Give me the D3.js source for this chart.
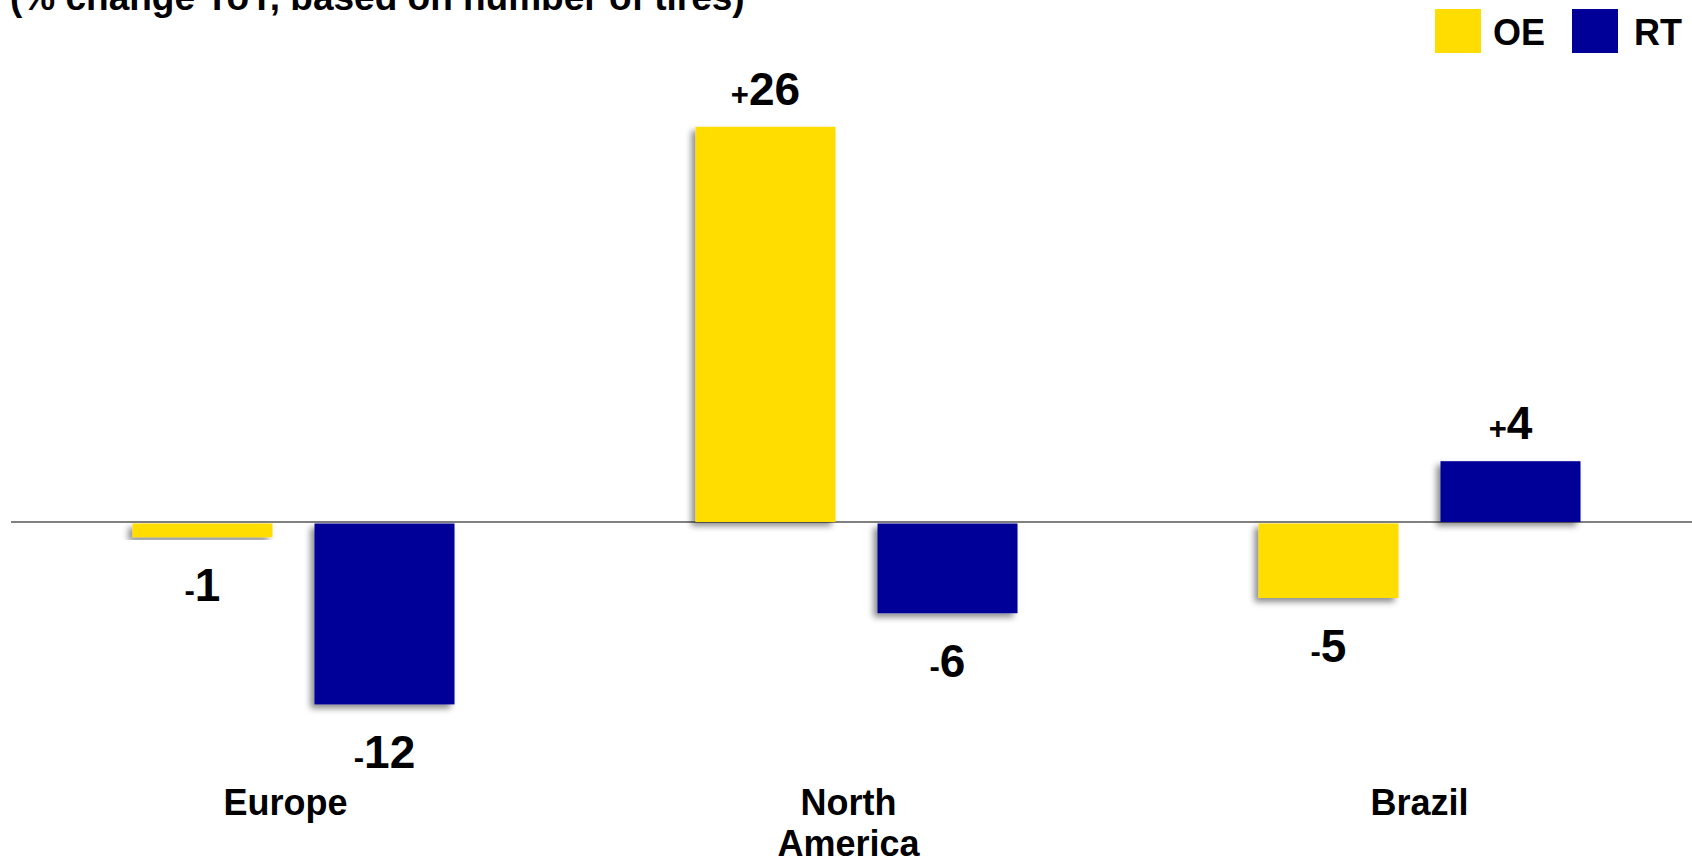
<!DOCTYPE html>
<html>
<head>
<meta charset="utf-8">
<script src="https://cdn.jsdelivr.net/npm/d3@7/dist/d3.min.js"></script>
<style>
  html, body { margin: 0; padding: 0; background: #ffffff; }
  svg { display: block; }
  text { font-family: "Liberation Sans", Arial, sans-serif; font-weight: bold; fill: #000; }
</style>
</head>
<body>
<svg id="chart" width="1692" height="864"></svg>
<script>
// Volume change by region and market segment
const categories = ["Europe", "North America", "Brazil"];
const categoryLines = [["Europe"], ["North", "America"], ["Brazil"]];
const series = ["OE", "RT"];
const oeValues = [-1, 26, -5];
const rtValues = [-12, -6, 4];
const subtitle = "(% change YoY, based on number of tires)";

const colors = { OE: "#FFDD00", RT: "#000099" };

const W = 1692, H = 864;
const svg = d3.select("#chart");

// drop shadow for the bars
const defs = svg.append("defs");
const f = defs.append("filter").attr("id", "shadow")
  .attr("x", "-20%").attr("y", "-20%").attr("width", "140%").attr("height", "140%");
f.append("feDropShadow").attr("dx", -4).attr("dy", 4).attr("stdDeviation", 3)
  .attr("flood-color", "#000").attr("flood-opacity", 0.45);

const x0 = d3.scaleBand().domain(categories).range([12, 1701]).paddingInner(0).paddingOuter(0);
const x1 = d3.scaleBand().domain(series).range([0, x0.bandwidth()])
  .paddingInner(0.2308).paddingOuter(0.662);
const y = d3.scaleLinear().domain([-12, 26]).range([704.4, 126.8]);

const rows = [];
categories.forEach((c, i) => {
  rows.push({ cat: c, s: "OE", v: oeValues[i] });
  rows.push({ cat: c, s: "RT", v: rtValues[i] });
});

// zero line
svg.append("line")
  .attr("x1", 11).attr("x2", W)
  .attr("y1", y(0)).attr("y2", y(0))
  .attr("stroke", "#808080").attr("stroke-width", 2);

// bars
svg.append("g").selectAll("rect").data(rows).join("rect")
  .attr("x", d => x0(d.cat) + x1(d.s))
  .attr("width", x1.bandwidth())
  .attr("y", d => d.v >= 0 ? y(d.v) : y(0) + 1.5)
  .attr("height", d => d.v >= 0 ? y(0) - y(d.v) : y(d.v) - y(0) - 1.5)
  .attr("fill", d => colors[d.s])
  .attr("filter", "url(#shadow)");

// value labels: small sign followed by large digits
const lbl = svg.append("g").selectAll("text").data(rows).join("text")
  .attr("x", d => x0(d.cat) + x1(d.s) + x1.bandwidth() / 2)
  .attr("y", d => d.v >= 0 ? y(d.v) - 22 : y(d.v) + 64)
  .attr("text-anchor", "middle");
lbl.append("tspan")
  .attr("font-size", 31)
  .text(d => d.v >= 0 ? "+" : "-");
lbl.append("tspan")
  .attr("font-size", 46)
  .text(d => Math.abs(d.v));

// category labels
const cl = svg.append("g").selectAll("text").data(categories).join("text")
  .attr("x", d => x0(d) + x0.bandwidth() / 2 - (d === "Brazil" ? 0 : 8))
  .attr("y", 815)
  .attr("text-anchor", "middle")
  .attr("font-size", 36);
cl.selectAll("tspan").data((d, i) => categoryLines[i]).join("tspan")
  .attr("x", function () { return d3.select(this.parentNode).attr("x"); })
  .attr("dy", (d, i) => i === 0 ? 0 : 41)
  .text(d => d);

// subtitle, partly above the visible area
svg.append("text")
  .attr("x", 10).attr("y", 10)
  .attr("font-size", 37)
  .text(subtitle);

// legend
const legend = svg.append("g");
const legendItems = [
  { s: "OE", sx: 1435, tx: 1493 },
  { s: "RT", sx: 1572, tx: 1634 }
];
legend.selectAll("rect").data(legendItems).join("rect")
  .attr("x", d => d.sx).attr("y", 9)
  .attr("width", 46).attr("height", 44)
  .attr("fill", d => colors[d.s]);
legend.selectAll("text").data(legendItems).join("text")
  .attr("x", d => d.tx).attr("y", 45)
  .attr("font-size", 36)
  .text(d => d.s);
</script>
</body>
</html>
